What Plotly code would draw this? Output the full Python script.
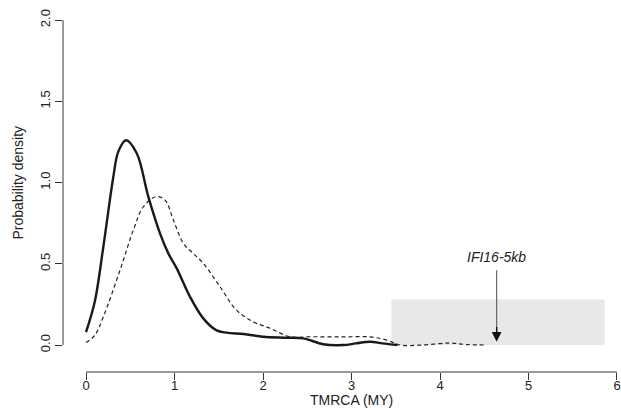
import plotly.graph_objects as go

# Solid curve (density 1)
solid_x = [0, 0.1, 0.196, 0.309, 0.365, 0.452, 0.573, 0.704, 0.836, 0.93, 1.025, 1.175,
           1.325, 1.47, 1.59, 1.78, 2.0, 2.25, 2.455, 2.68, 2.91, 3.05, 3.21, 3.35, 3.52]
solid_y = [0.08, 0.27, 0.605, 1.036, 1.19, 1.26, 1.18, 0.913, 0.687, 0.564, 0.472, 0.297,
           0.164, 0.092, 0.076, 0.068, 0.051, 0.045, 0.041, 0.005, 0.0, 0.01, 0.02, 0.01, 0.0]

# Dashed curve (density 2)
dash_x = [0, 0.1, 0.196, 0.384, 0.535, 0.648, 0.79, 0.893, 0.987, 1.1, 1.21, 1.325, 1.514,
          1.70, 1.89, 2.08, 2.305, 2.53, 2.9, 3.21, 3.4, 3.55, 3.8, 4.1, 4.3, 4.53]
dash_y = [0.015, 0.06, 0.174, 0.46, 0.708, 0.851, 0.913, 0.892, 0.769, 0.626, 0.564, 0.503,
          0.359, 0.215, 0.143, 0.103, 0.051, 0.051, 0.05, 0.05, 0.03, 0.0, 0.0, 0.012, 0.003, 0.0]

# Shaded interval and marker
band_x = [3.45, 5.86]
band_y = [0.0, 0.28]
marker_label = "IFI16-5kb"
marker_x = 4.64
marker_y = [0.02, 0.46]

x_ticks = [0, 1, 2, 3, 4, 5, 6]
y_ticks = [0.0, 0.5, 1.0, 1.5, 2.0]
y_tick_text = ["0.0", "0.5", "1.0", "1.5", "2.0"]
x_title = "TMRCA (MY)"
y_title = "Probability density"

FONT = "Liberation Sans Narrow, Liberation Sans, Arial, sans-serif"
AX = "#333333"

fig = go.Figure()
fig.add_shape(type="rect", x0=band_x[0], x1=band_x[1], y0=band_y[0], y1=band_y[1],
              xref="x", yref="y", fillcolor="#e8e8e9", line=dict(width=0), layer="below")
fig.add_trace(go.Scatter(x=dash_x, y=dash_y, mode="lines", line_shape="spline",
                         line=dict(color="#222222", width=1.2, dash="4px,3px"), showlegend=False))
fig.add_trace(go.Scatter(x=solid_x, y=solid_y, mode="lines", line_shape="spline",
                         line=dict(color="#1a1a1a", width=2.4), showlegend=False))

# detached R-style axis lines
fig.add_shape(type="line", x0=x_ticks[0], x1=x_ticks[-1], y0=0, y1=0, xref="x", yref="paper",
              line=dict(color=AX, width=1))
fig.add_shape(type="line", x0=0, x1=0, y0=y_ticks[0], y1=y_ticks[-1], xref="paper", yref="y",
              line=dict(color=AX, width=1))

# marker arrow: grey shaft, black head
fig.add_shape(type="line", x0=marker_x, x1=marker_x, y0=marker_y[0] + 0.06, y1=marker_y[1],
              xref="x", yref="y", line=dict(color="#666666", width=1.2))
fig.add_annotation(x=marker_x, y=marker_y[0], ax=marker_x, ay=marker_y[0] + 0.1, xref="x", yref="y",
                   axref="x", ayref="y", text="", showarrow=True, arrowhead=2, arrowsize=1.5,
                   arrowwidth=1.3, arrowcolor="#111111")
fig.add_annotation(x=marker_x, y=marker_y[1], xref="x", yref="y", text="<i>" + marker_label + "</i>",
                   showarrow=False, yanchor="bottom", yshift=3,
                   font=dict(family=FONT, size=14, color="#222222"))

# axis titles
fig.add_annotation(x=3, y=0, xref="x", yref="paper", text=x_title, showarrow=False,
                   yanchor="middle", yshift=-28, font=dict(family=FONT, size=14, color="#222222"))
fig.add_annotation(x=0, y=1.0, xref="paper", yref="y", text=y_title, showarrow=False,
                   textangle=-90, xanchor="center", xshift=-45,
                   font=dict(family=FONT, size=14, color="#222222"))

fig.update_layout(
    width=621, height=414,
    margin=dict(l=63, r=1, t=15, b=42),
    paper_bgcolor="white", plot_bgcolor="white",
    font=dict(family=FONT, size=13, color="#222222"),
    xaxis=dict(range=[-0.26, 6.034], tickvals=x_ticks, ticks="outside", ticklen=7,
               tickcolor=AX, showgrid=False, zeroline=False, showline=False, automargin=False,
               tickfont=dict(size=13), ticklabeloverflow="allow", ticklabelstandoff=-6),
    yaxis=dict(range=[-0.166, 2.031], tickvals=y_ticks, ticktext=y_tick_text, ticks="outside",
               ticklen=7, tickcolor=AX, tickangle=-90, showgrid=False, zeroline=False,
               showline=False, automargin=False, tickfont=dict(size=13)),
)

fig.write_html("out.html", config={"displayModeBar": False},
               post_script="document.body.style.margin='0';document.body.style.overflow='hidden';")
